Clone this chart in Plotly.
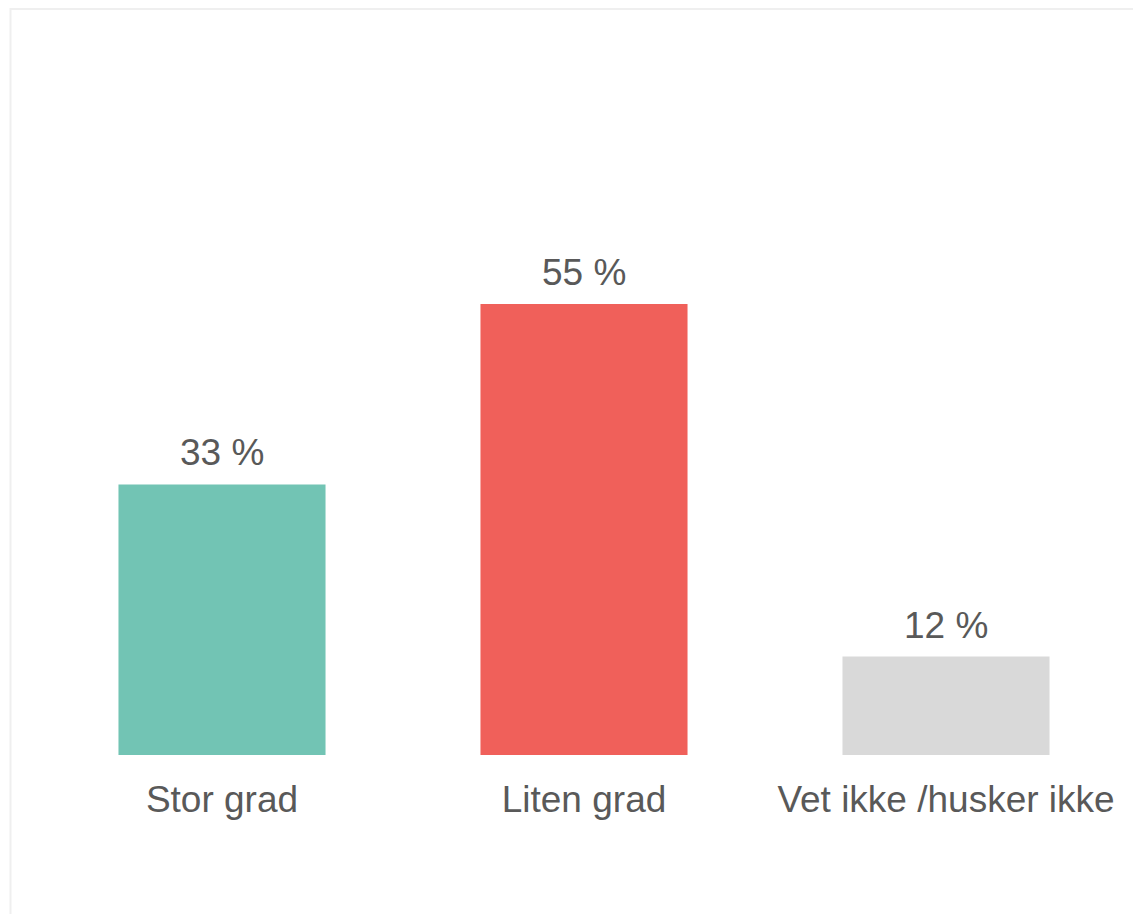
import plotly.graph_objects as go

categories = ["Stor grad", "Liten grad", "Vet ikke /husker ikke"]
values = [33, 55, 12]
labels = ["33 %", "55 %", "12 %"]
colors = ["#72C4B4", "#F0605A", "#D9D9D9"]

FONT = "Liberation Sans, Arial, sans-serif"
TXT = "#595959"

fig = go.Figure()
fig.add_trace(go.Bar(
    x=categories, y=values, marker=dict(color=colors, line=dict(width=0)),
    hoverinfo="skip", showlegend=False,
))

for c, v, t in zip(categories, values, labels):
    fig.add_annotation(x=c, y=v, text=t, showarrow=False, yanchor="bottom",
                       yshift=9, font=dict(family=FONT, size=37, color=TXT))

fig.add_shape(type="rect", xref="paper", yref="paper",
              x0=-0.0281, x1=1.2, y0=-0.5, y1=1.1372,
              line=dict(color="#EFEFEF", width=2), fillcolor="rgba(0,0,0,0)",
              layer="below")

fig.update_layout(
    width=1141, height=914,
    margin=dict(l=33, r=22, t=91, b=167),
    paper_bgcolor="white", plot_bgcolor="white",
    bargap=0.428,
    font=dict(family=FONT, color=TXT),
    xaxis=dict(showgrid=False, showline=False, zeroline=False,
               ticks="outside", ticklen=12, tickcolor="rgba(0,0,0,0)",
               tickfont=dict(family=FONT, size=37, color=TXT),
               range=[-0.5, 2.5], fixedrange=True),
    yaxis=dict(visible=False, range=[0, 80], fixedrange=True),
)

fig.write_html("out.html")
